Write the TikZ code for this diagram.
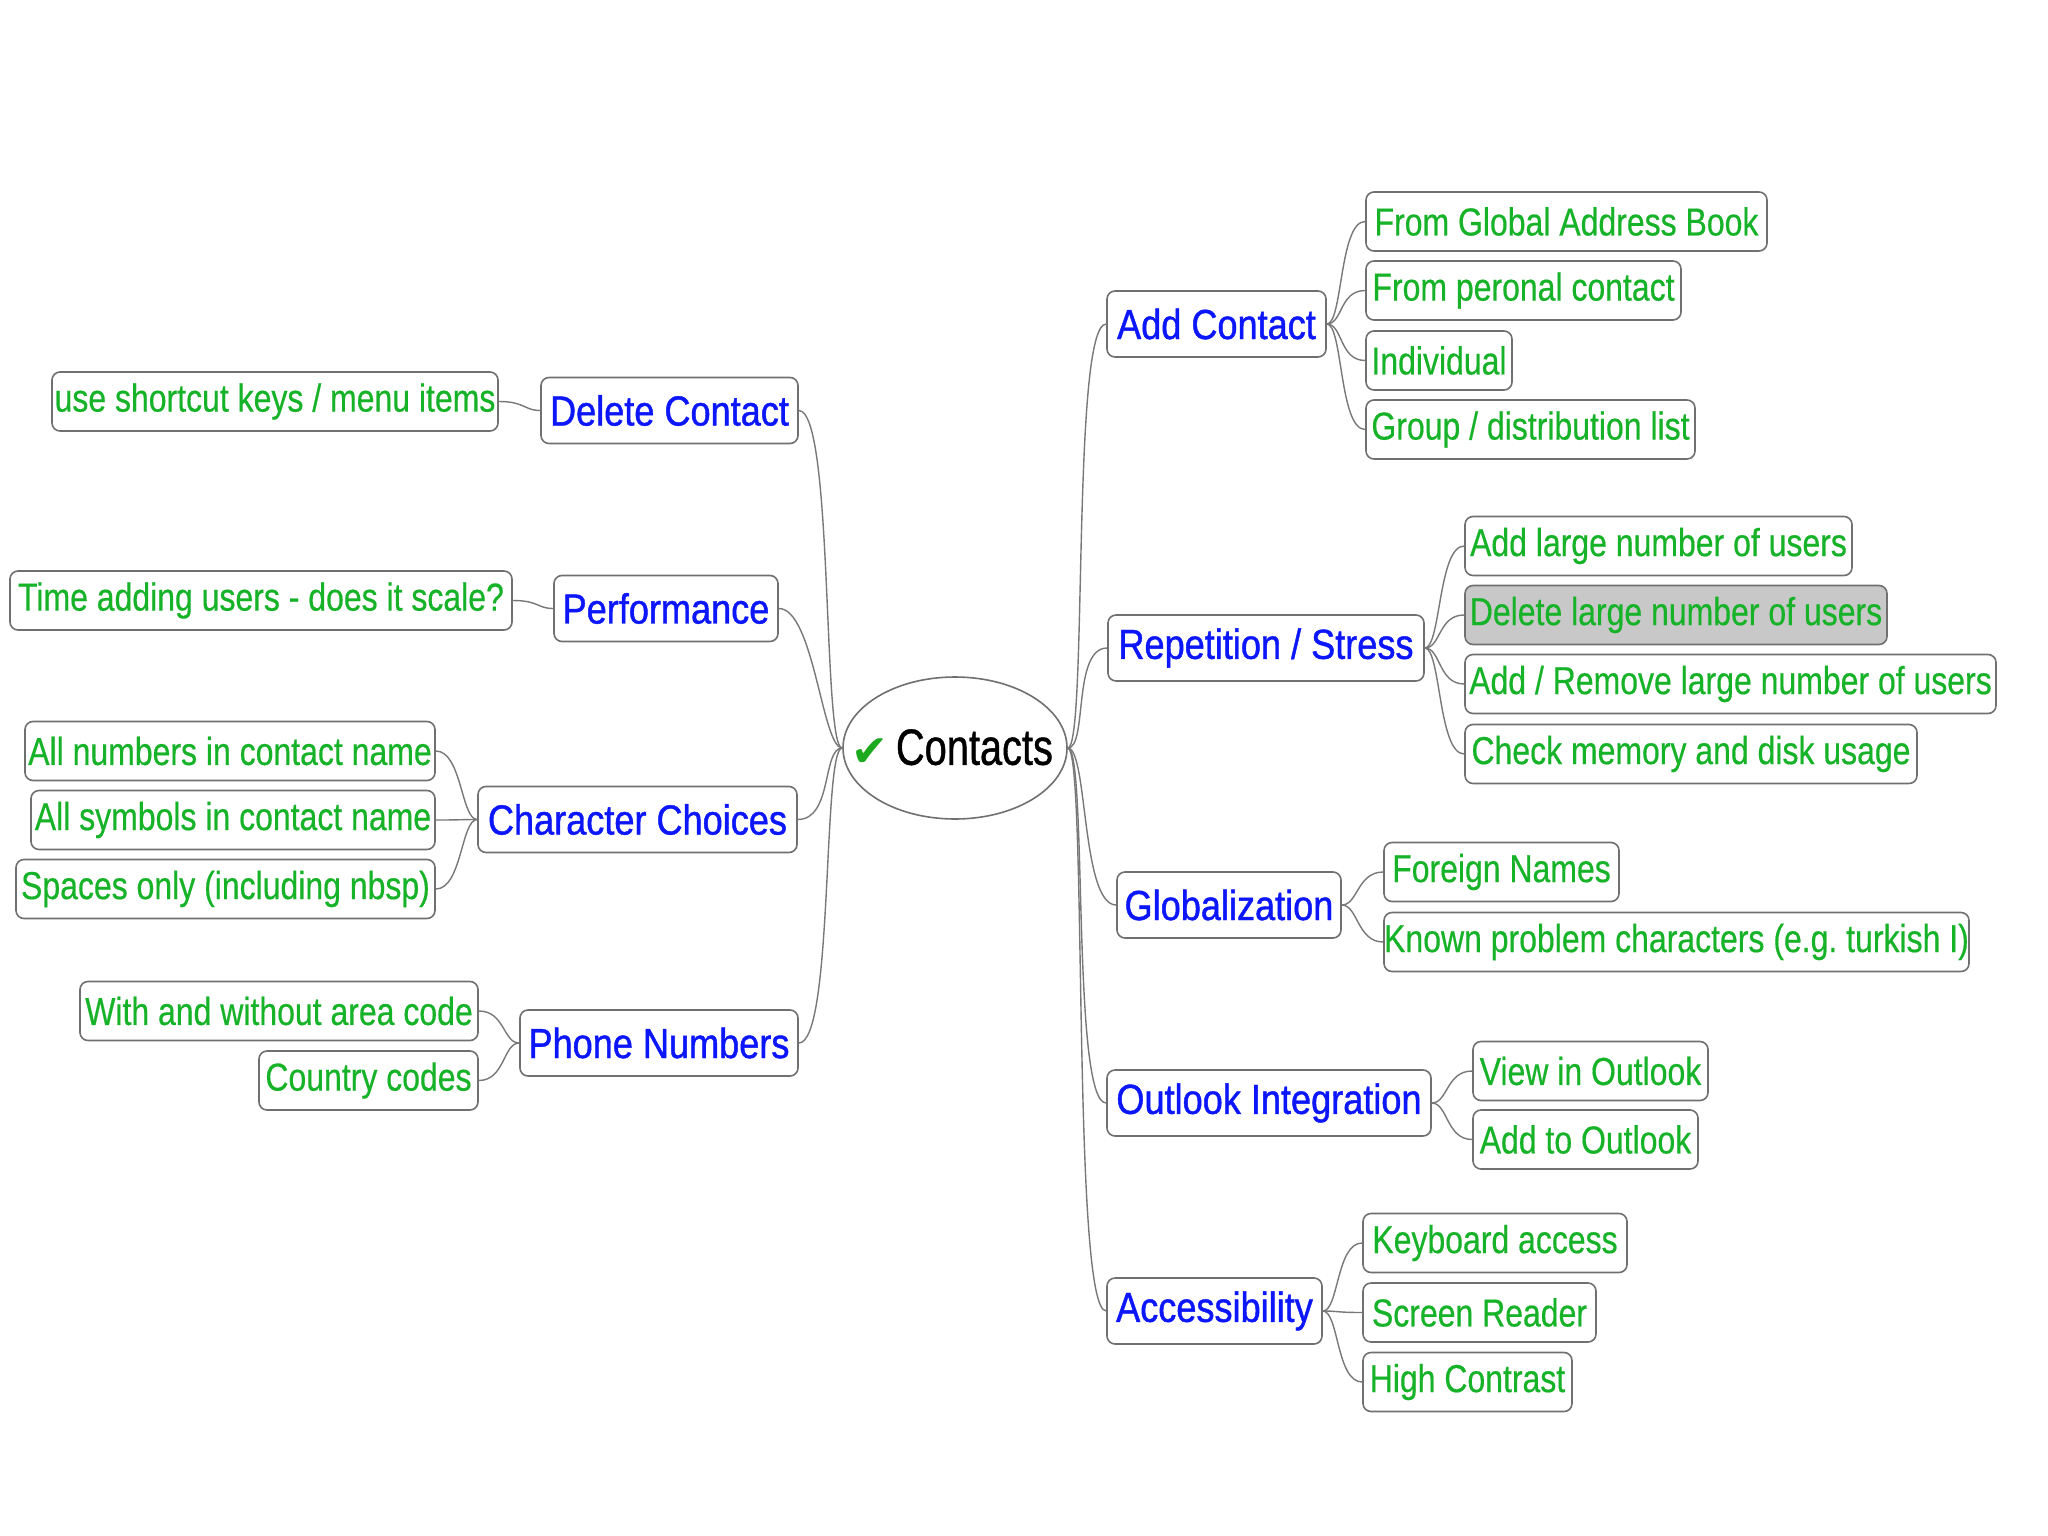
\documentclass[tikz,border=0pt]{standalone}
\usepackage{fontspec}
\usetikzlibrary{shapes.geometric}
\frenchspacing
\newfontfamily\leaffamily[FakeStretch=0.82,FakeBold=0.4]{Liberation Sans}
\newfontfamily\mainfamily[FakeStretch=0.86,FakeBold=1.0]{Liberation Sans}
\newfontfamily\rootfamily[FakeStretch=0.78,FakeBold=0.8]{Liberation Sans}
\newfontfamily\checkfamily{DejaVu Sans}
\definecolor{leafgreen}{RGB}{22,178,40}
\definecolor{nodeblue}{RGB}{12,22,250}
\definecolor{boxgray}{RGB}{112,112,112}
\definecolor{linkgray}{RGB}{120,120,120}
\definecolor{selgray}{RGB}{200,200,200}
\definecolor{checkgreen}{RGB}{30,170,30}
\newcommand{\leaffnt}{\leaffamily\fontsize{39}{45}\selectfont}
\newcommand{\mainfnt}{\mainfamily\fontsize{42}{48}\selectfont}
\newcommand{\rootfnt}{\rootfamily\fontsize{51}{58}\selectfont}
\begin{document}
\begin{tikzpicture}[x=1pt,y=-1pt,
  box/.style={draw=boxgray, line width=1.6pt, rounded corners=8pt, fill=white, inner sep=0pt, align=center},
  mainbox/.style={box, minimum height=66pt, font=\mainfnt, text=nodeblue},
  leafbox/.style={box, minimum height=59pt, font=\leaffnt, text=leafgreen},
  rootnode/.style={ellipse, draw=boxgray, line width=1.6pt, fill=white, minimum width=224pt, minimum height=142pt, inner sep=0pt, font=\rootfnt},
  link/.style={draw=linkgray, line width=1.4pt},
]
\useasboundingbox[fill=white] (0,0) rectangle (2048,1536);

% root
\node[rootnode] (c) at (955,748) {\makebox[0pt]{\hspace{-6pt}{\checkfamily\fontsize{44}{48}\selectfont\textcolor{checkgreen}{\raisebox{-2pt}{✔}}}\hspace{8pt}Contacts}};

% right main nodes
\node[mainbox, minimum width=219pt] (ac) at (1216.5,324) {Add Contact};
\node[mainbox, minimum width=316pt] (rs) at (1266,648) {Repetition / Stress};
\node[mainbox, minimum width=224pt] (gl) at (1229,905) {Globalization};
\node[mainbox, minimum width=324pt] (oi) at (1269,1103) {Outlook Integration};
\node[mainbox, minimum width=215pt] (acc) at (1214.5,1311) {Accessibility};

% left main nodes
\node[mainbox, minimum width=257pt] (dc) at (669.5,410.5) {Delete Contact};
\node[mainbox, minimum width=224pt] (pf) at (666,608.5) {Performance};
\node[mainbox, minimum width=319pt] (cc) at (637.5,819.5) {Character Choices};
\node[mainbox, minimum width=278pt] (pn) at (659,1043) {Phone Numbers};

% right leaves
\node[leafbox, minimum width=401pt] (ac1) at (1566.5,221.5) {From Global Address Book};
\node[leafbox, minimum width=315pt] (ac2) at (1523.5,290.5) {From peronal contact};
\node[leafbox, minimum width=146pt] (ac3) at (1439,360.5) {Individual};
\node[leafbox, minimum width=329pt] (ac4) at (1530.5,429.5) {Group / distribution list};

\node[leafbox, minimum width=387pt] (rs1) at (1658.5,546) {Add large number of users};
\node[leafbox, minimum width=422pt, fill=selgray] (rs2) at (1676,615) {Delete large number of users};
\node[leafbox, minimum width=531pt] (rs3) at (1730.5,684) {Add / Remove large number of users};
\node[leafbox, minimum width=452pt] (rs4) at (1691,754) {Check memory and disk usage};

\node[leafbox, minimum width=235pt] (gl1) at (1501.5,872) {Foreign Names};
\node[leafbox, minimum width=585pt] (gl2) at (1676.5,942) {Known problem characters (e.g. turkish I)};

\node[leafbox, minimum width=235pt] (oi1) at (1590.5,1071) {View in Outlook};
\node[leafbox, minimum width=225pt] (oi2) at (1585.5,1139.5) {Add to Outlook};

\node[leafbox, minimum width=264pt] (acc1) at (1495,1243) {Keyboard access};
\node[leafbox, minimum width=233pt] (acc2) at (1479.5,1312.5) {Screen Reader};
\node[leafbox, minimum width=209pt] (acc3) at (1467.5,1382) {High Contrast};

% left leaves
\node[leafbox, minimum width=446pt] (dc1) at (275,401.5) {use shortcut keys / menu items};
\node[leafbox, minimum width=502pt] (pf1) at (261,600.5) {Time adding users - does it scale?};
\node[leafbox, minimum width=410pt] (cc1) at (230,751) {All numbers in contact name};
\node[leafbox, minimum width=404pt] (cc2) at (233,820) {All symbols in contact name};
\node[leafbox, minimum width=419pt] (cc3) at (225.5,889) {Spaces only (including nbsp)};
\node[leafbox, minimum width=398pt] (pn1) at (279,1011) {With and without area code};
\node[leafbox, minimum width=219pt] (pn2) at (368.5,1080.5) {Country codes};

% root connectors
\foreach \n in {ac,rs,gl,oi,acc}
  \path[link] (c.east) .. controls +(20,0) and +(-35,0) .. (\n.west);
\foreach \n in {dc,pf,cc,pn}
  \path[link] (c.west) .. controls +(-20,0) and +(35,0) .. (\n.east);
% right child connectors
\foreach \p/\k in {ac/ac1,ac/ac2,ac/ac3,ac/ac4,rs/rs1,rs/rs2,rs/rs3,rs/rs4,gl/gl1,gl/gl2,oi/oi1,oi/oi2,acc/acc1,acc/acc2,acc/acc3}
  \path[link] (\p.east) .. controls +(16,0) and +(-26,0) .. (\k.west);
% left child connectors
\foreach \p/\k in {dc/dc1,pf/pf1,cc/cc1,cc/cc2,cc/cc3,pn/pn1,pn/pn2}
  \path[link] (\p.west) .. controls +(-16,0) and +(26,0) .. (\k.east);
\end{tikzpicture}
\end{document}
